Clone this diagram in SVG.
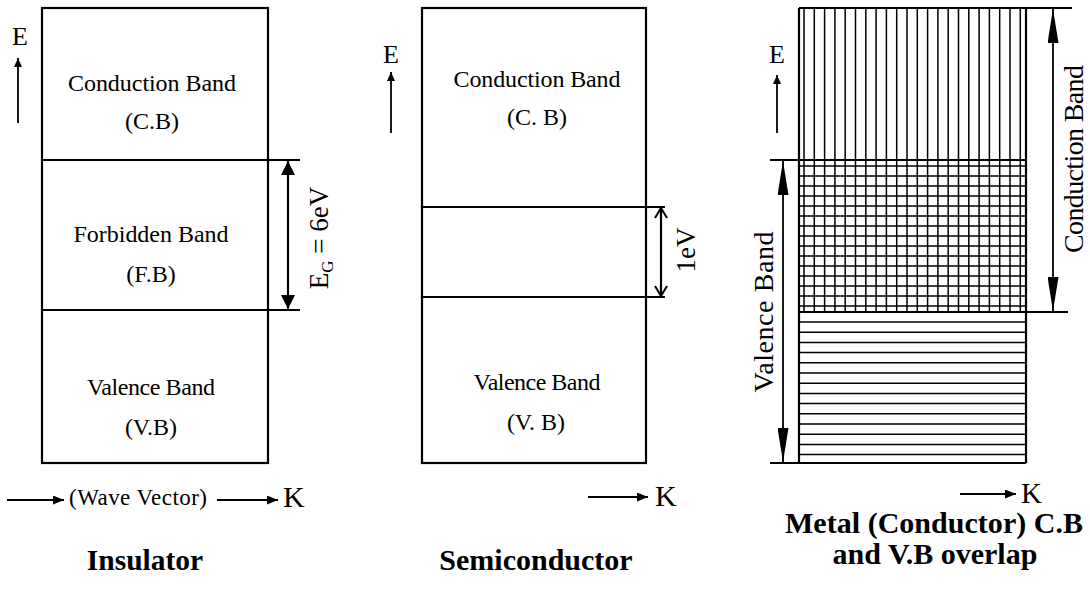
<svg xmlns="http://www.w3.org/2000/svg" width="1090" height="597" viewBox="0 0 1090 597">
<style>
  .t { font-family: "Liberation Serif", "Times New Roman", serif; fill: #000; }
  .b { font-weight: bold; }
  .ln { stroke: #000; stroke-width: 2.2; fill: none; }
  .ax { stroke: #000; stroke-width: 1.8; fill: none; }
  .h { stroke: #000; stroke-width: 1.5; fill: none; }
</style>
<defs>
  <marker id="mK" markerUnits="userSpaceOnUse" markerWidth="11" markerHeight="9" refX="11" refY="4.5" orient="auto-start-reverse" viewBox="0 0 11 9">
    <path d="M0,0 L11,4.5 L0,9 z" fill="#000"/>
  </marker>
  <marker id="mE" markerUnits="userSpaceOnUse" markerWidth="9" markerHeight="8" refX="9" refY="4" orient="auto-start-reverse" viewBox="0 0 9 8">
    <path d="M0,0 L9,4 L0,8 z" fill="#000"/>
  </marker>
  <marker id="mI" markerUnits="userSpaceOnUse" markerWidth="14" markerHeight="14" refX="14" refY="7" orient="auto-start-reverse" viewBox="0 0 14 14">
    <path d="M0,0 L14,7 L0,14 z" fill="#000"/>
  </marker>
  <marker id="mS" markerUnits="userSpaceOnUse" markerWidth="12" markerHeight="14" refX="11" refY="7" orient="auto-start-reverse" viewBox="0 0 12 14">
    <path d="M1,1 L11,7 L1,13" fill="none" stroke="#000" stroke-width="2"/>
  </marker>
  <marker id="mM" markerUnits="userSpaceOnUse" markerWidth="34" markerHeight="11" refX="34" refY="5.5" orient="auto-start-reverse" viewBox="0 0 34 11">
    <path d="M0,0 L34,5.5 L0,11 z" fill="#000"/>
  </marker>
</defs>
<rect width="1090" height="597" fill="#fff"/>

<g id="insulator">
  <rect x="42" y="8" width="226" height="455" class="ln"/>
  <path d="M42,160 H300 M42,310 H300" class="ln"/>
  <text class="t" x="20" y="45" font-size="26" text-anchor="middle">E</text>
  <text class="t" x="152" y="91" font-size="24" text-anchor="middle" textLength="168">Conduction Band</text>
  <text class="t" x="152" y="129" font-size="24" text-anchor="middle">(C.B)</text>
  <text class="t" x="151" y="242" font-size="24" text-anchor="middle" textLength="155">Forbidden Band</text>
  <text class="t" x="151" y="282" font-size="24" text-anchor="middle">(F.B)</text>
  <text class="t" x="151" y="395" font-size="24" text-anchor="middle" textLength="128">Valence Band</text>
  <text class="t" x="151" y="435" font-size="24" text-anchor="middle">(V.B)</text>
  <text class="t" transform="translate(328,238) rotate(-90)" font-size="27" text-anchor="middle">E<tspan font-size="17" dy="5">G</tspan><tspan dy="-5"> = 6eV</tspan></text>
  <text class="t" x="69" y="505" font-size="23" textLength="138">(Wave Vector)</text>
  <text class="t" x="283" y="507" font-size="30">K</text>
  <text class="t b" x="145" y="570" font-size="29.5" text-anchor="middle">Insulator</text>
</g>

<g id="semiconductor">
  <rect x="422" y="8" width="224" height="455" class="ln"/>
  <path d="M422,207 H665 M422,297 H665" class="ln"/>
  <text class="t" x="391" y="63" font-size="26" text-anchor="middle">E</text>
  <text class="t" x="537" y="87" font-size="24" text-anchor="middle" textLength="167">Conduction Band</text>
  <text class="t" x="537" y="125" font-size="24" text-anchor="middle">(C. B)</text>
  <text class="t" x="537" y="390" font-size="24" text-anchor="middle" textLength="127">Valence Band</text>
  <text class="t" x="536" y="430" font-size="24" text-anchor="middle">(V. B)</text>
  <text class="t" transform="translate(695,250) rotate(-90)" font-size="27" text-anchor="middle">1eV</text>
  <text class="t" x="655" y="506" font-size="30">K</text>
  <text class="t b" x="536" y="570" font-size="30" text-anchor="middle">Semiconductor</text>
</g>

<g id="metal">
  <path class="h" d="M804,8V312 M814.3,8V312 M824.6,8V312 M834.9,8V312 M845.2,8V312 M855.5,8V312 M865.8,8V312 M876.1,8V312 M886.4,8V312 M896.7,8V312 M907,8V312 M917.3,8V312 M927.6,8V312 M937.9,8V312 M948.2,8V312 M958.5,8V312 M968.8,8V312 M979.1,8V312 M989.4,8V312 M999.7,8V312 M1010,8V312 M1020.3,8V312"/>
  <path class="h" d="M799,166H1026 M799,176H1026 M799,186H1026 M799,196H1026 M799,206H1026 M799,216H1026 M799,226H1026 M799,236H1026 M799,246H1026 M799,256H1026 M799,266H1026 M799,276H1026 M799,286H1026 M799,296H1026 M799,306H1026"/>
  <path class="h" d="M799,322H1026 M799,332.2H1026 M799,342.4H1026 M799,352.6H1026 M799,362.8H1026 M799,373H1026 M799,383.2H1026 M799,393.4H1026 M799,403.6H1026 M799,413.8H1026 M799,424H1026 M799,434.2H1026 M799,444.4H1026 M799,454.6H1026"/>
  <path class="ln" d="M799,8V463 M1026,8V463 M799,8H1072 M770,160H1026 M799,312H1068 M770,463H1026"/>
  <text class="t" x="777" y="63" font-size="26" text-anchor="middle">E</text>
  <text class="t" transform="translate(1083,159) rotate(-90)" font-size="28" text-anchor="middle" textLength="188">Conduction Band</text>
  <text class="t" transform="translate(773,312) rotate(-90)" font-size="28" text-anchor="middle" textLength="161">Valence Band</text>
  <text class="t" x="1021" y="503" font-size="29">K</text>
  <text class="t b" x="934" y="533" font-size="30" text-anchor="middle" textLength="298">Metal (Conductor) C.B</text>
  <text class="t b" x="935" y="564" font-size="30" text-anchor="middle">and V.B overlap</text>
</g>

<g id="connectors">
  <line class="ax" x1="18" y1="123" x2="18" y2="58" marker-end="url(#mE)"/>
  <line class="ax" x1="391" y1="133" x2="391" y2="72" marker-end="url(#mE)"/>
  <line class="ax" x1="777" y1="133" x2="777" y2="75" marker-end="url(#mE)"/>
  <line class="ln" x1="288" y1="161" x2="288" y2="309" marker-start="url(#mI)" marker-end="url(#mI)"/>
  <line class="ln" x1="661" y1="208" x2="661" y2="296" marker-start="url(#mS)" marker-end="url(#mS)"/>
  <line class="ax" x1="1053" y1="9" x2="1053" y2="311" marker-start="url(#mM)" marker-end="url(#mM)"/>
  <line class="ax" x1="783" y1="161" x2="783" y2="462" marker-start="url(#mM)" marker-end="url(#mM)"/>
  <line class="ax" x1="7" y1="500" x2="64" y2="500" marker-end="url(#mK)"/>
  <line class="ax" x1="217" y1="500" x2="278" y2="500" marker-end="url(#mK)"/>
  <line class="ax" x1="588" y1="497" x2="648" y2="497" marker-end="url(#mK)"/>
  <line class="ax" x1="960" y1="494" x2="1016" y2="494" marker-end="url(#mK)"/>
</g>
</svg>
